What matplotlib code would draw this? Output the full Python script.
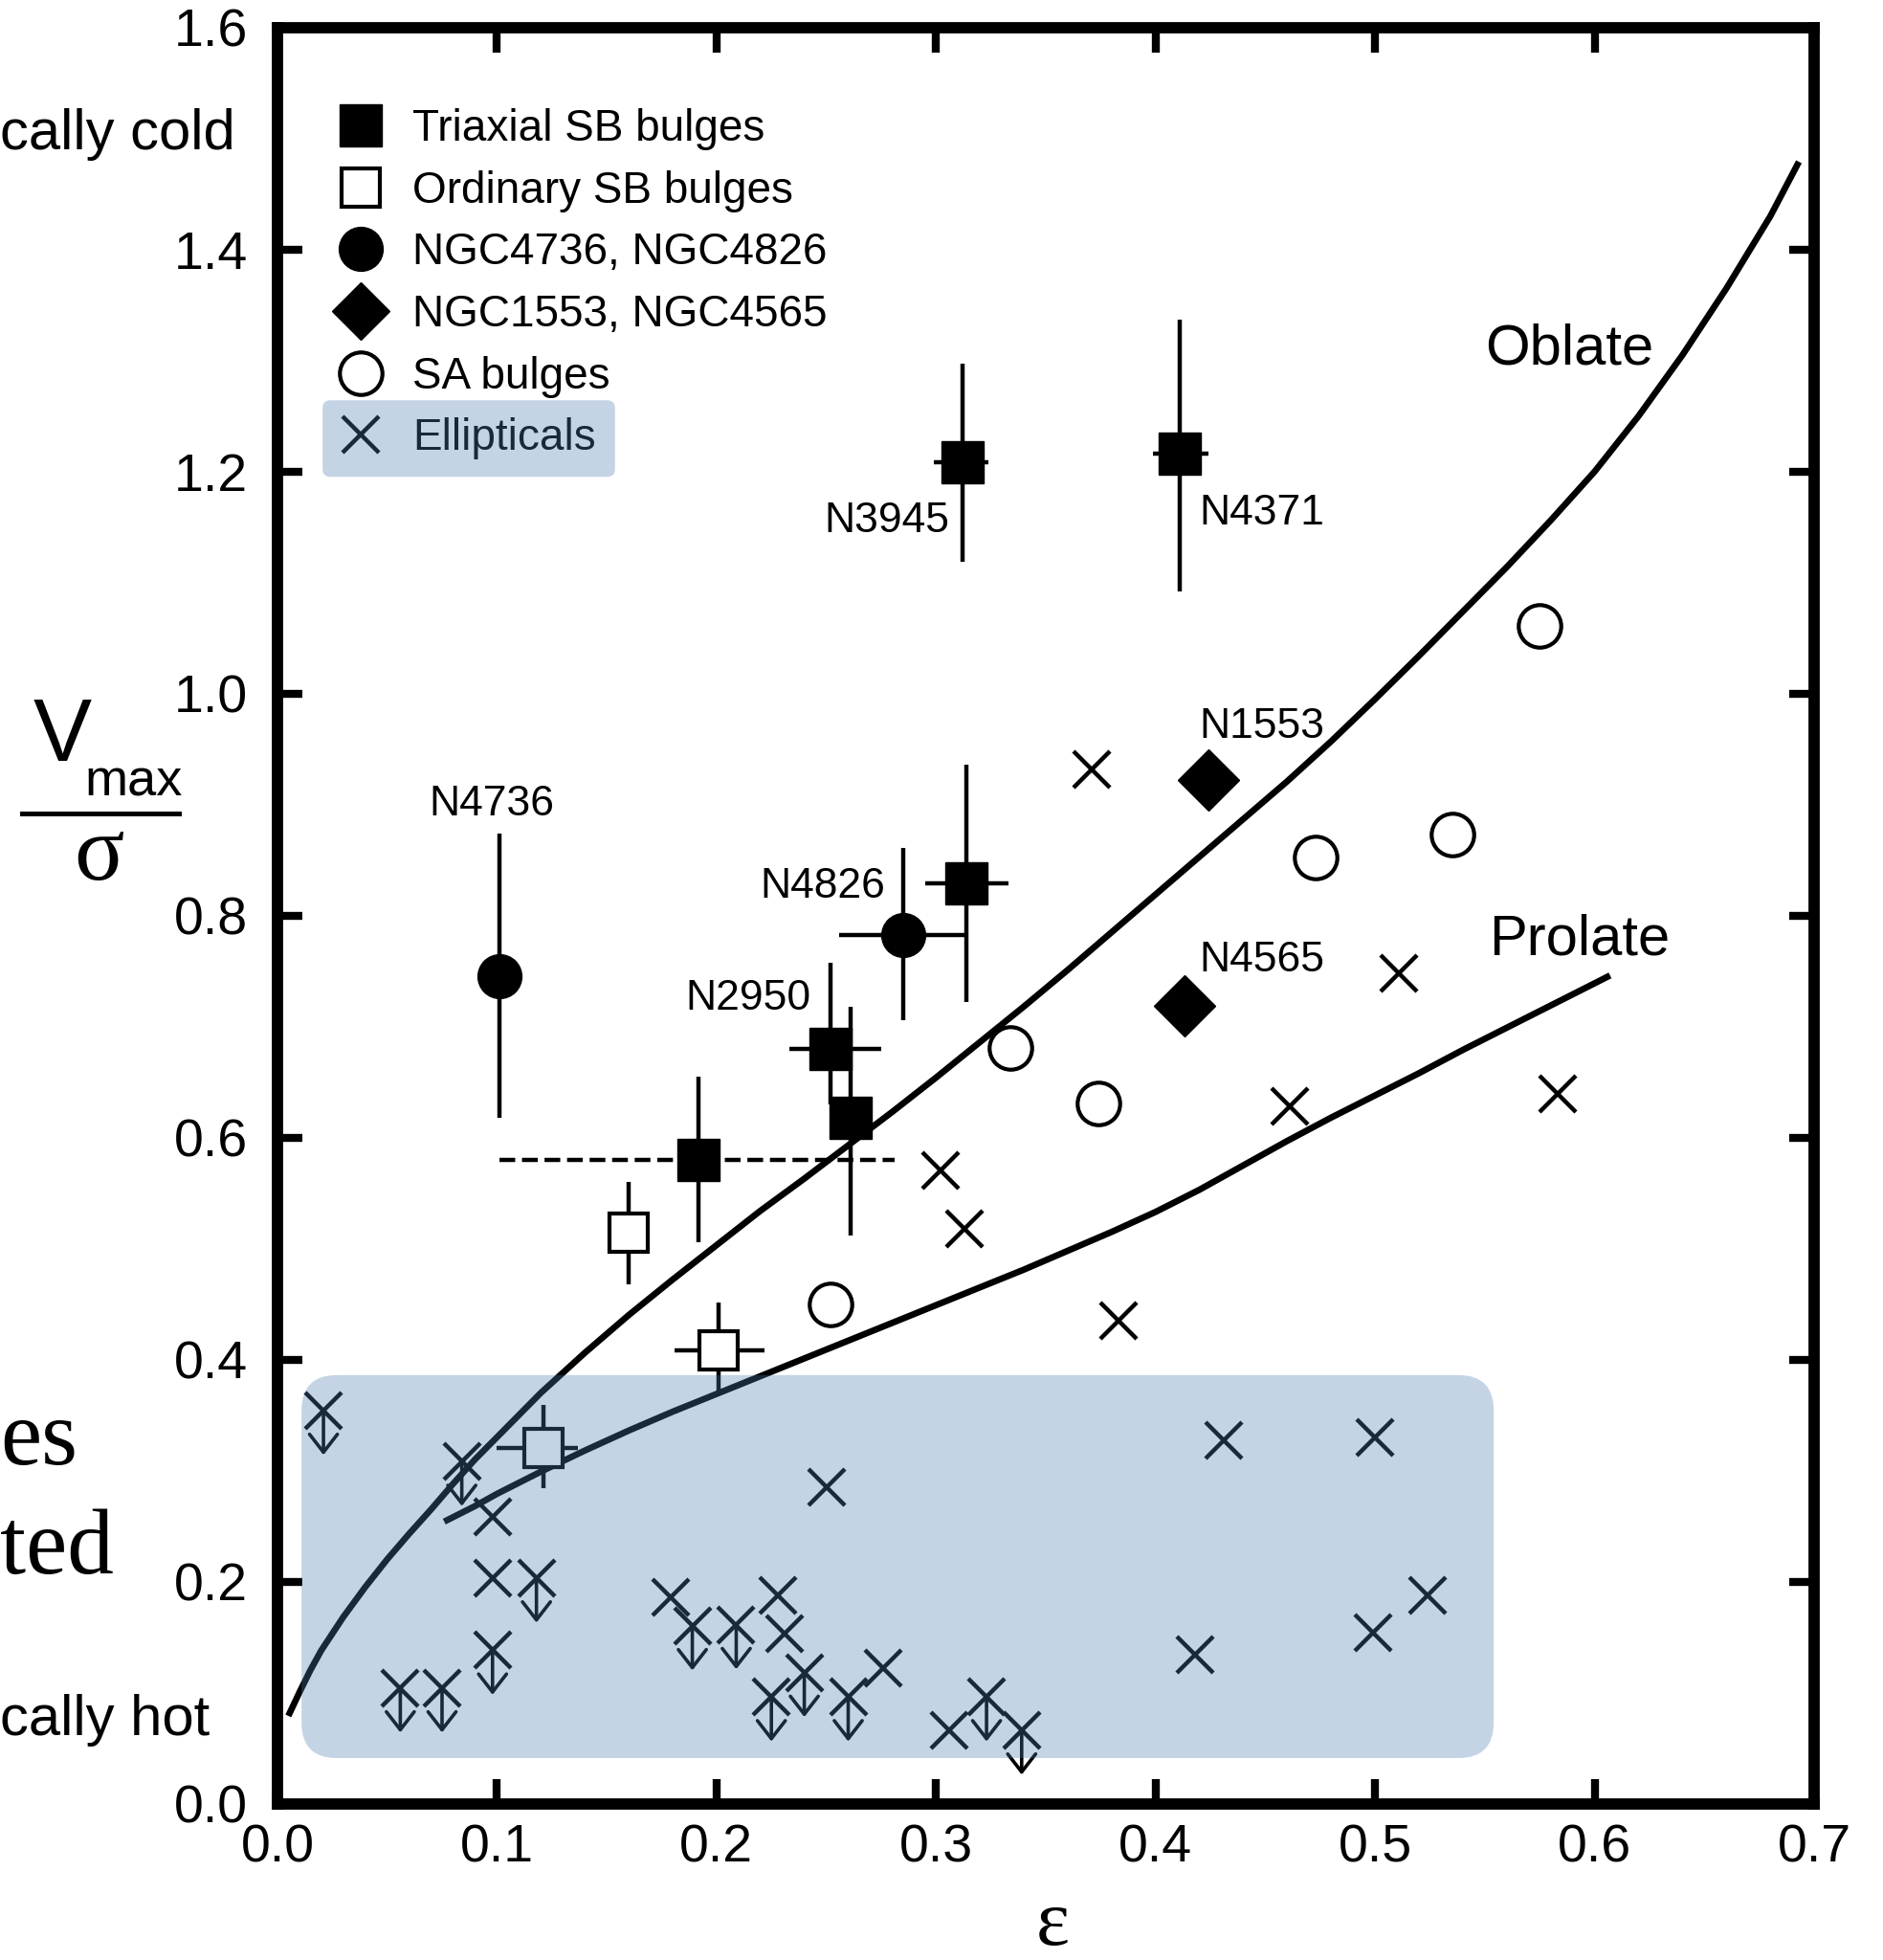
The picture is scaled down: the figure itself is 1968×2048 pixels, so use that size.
import numpy as np
import matplotlib
matplotlib.use('Agg')
import matplotlib.pyplot as plt
from matplotlib.lines import Line2D
from matplotlib.patches import FancyBboxPatch
from matplotlib.transforms import IdentityTransform

plt.rcParams['font.family'] = ['Liberation Sans', 'DejaVu Sans']

# ---- data ----
# triaxial SB bulges (filled squares), with error ranges
tri_x = [0.312, 0.411, 0.314, 0.252, 0.261, 0.192]
tri_y = [1.208, 1.216, 0.829, 0.680, 0.618, 0.580]
tri_ylo = [1.119, 1.092, 0.722, 0.630, 0.512, 0.506]
tri_yhi = [1.297, 1.337, 0.936, 0.757, 0.718, 0.655]
tri_xlo = [0.299, 0.399, 0.295, 0.233, 0.261, 0.101]
tri_xhi = [0.324, 0.424, 0.333, 0.275, 0.261, 0.281]
tri_xstyle = ['-', '-', '-', '-', '-', '--']

# ordinary SB bulges (open squares)
ord_x = [0.160, 0.201, 0.121]
ord_y = [0.514, 0.408, 0.320]
ord_ylo = [0.468, 0.372, 0.284]
ord_yhi = [0.560, 0.451, 0.359]
ord_xlo = [0.155, 0.181, 0.100]
ord_xhi = [0.165, 0.222, 0.137]

# NGC4736, NGC4826 (filled circles)
circ_x = [0.101, 0.285]
circ_y = [0.745, 0.782]
circ_ylo = [0.618, 0.706]
circ_yhi = [0.874, 0.861]
circ_xlo = [0.101, 0.256]
circ_xhi = [0.101, 0.314]

# NGC1553, NGC4565 (diamonds)
dia_x = [0.424, 0.413]
dia_y = [0.922, 0.719]

# SA bulges (open circles)
sa_x = [0.575, 0.473, 0.535, 0.334, 0.374, 0.252]
sa_y = [1.061, 0.852, 0.873, 0.681, 0.631, 0.450]

# ellipticals; ell_ul = 1 marks an upper limit
ell_x = [0.021, 0.084, 0.098, 0.098, 0.118, 0.098, 0.056, 0.075, 0.179, 0.189,
         0.209, 0.228, 0.231, 0.240, 0.225, 0.260, 0.276, 0.250, 0.306, 0.323,
         0.339, 0.431, 0.500, 0.524, 0.499, 0.418,
         0.371, 0.302, 0.313, 0.383, 0.461, 0.511, 0.583]
ell_y = [0.354, 0.308, 0.258, 0.203, 0.203, 0.138, 0.104, 0.104, 0.186, 0.160,
         0.161, 0.188, 0.153, 0.118, 0.096, 0.096, 0.122, 0.285, 0.066, 0.096,
         0.066, 0.327, 0.330, 0.188, 0.154, 0.134,
         0.932, 0.570, 0.518, 0.435, 0.628, 0.748, 0.639]
ell_ul = [1, 1, 0, 0, 1, 1, 1, 1, 0, 1,
          1, 0, 0, 1, 1, 1, 0, 0, 0, 1,
          1, 0, 0, 0, 0, 0,
          0, 0, 0, 0, 0, 0, 0]

# model curves
obl_x = [0.005, 0.01, 0.015, 0.02, 0.03, 0.04, 0.05, 0.06, 0.07, 0.08, 0.09, 0.10, 0.12,
         0.14, 0.16, 0.18, 0.20, 0.22, 0.24, 0.26, 0.28, 0.30, 0.32, 0.34, 0.36,
         0.38, 0.40, 0.42, 0.44, 0.46, 0.48, 0.50, 0.52, 0.54, 0.56, 0.58, 0.60,
         0.62, 0.64, 0.66, 0.68, 0.693]
obl_y = [0.079, 0.100, 0.120, 0.138, 0.168, 0.195, 0.220, 0.243, 0.265, 0.288, 0.310, 0.330, 0.370,
         0.406, 0.440, 0.472, 0.503, 0.534, 0.563, 0.593, 0.623, 0.654, 0.686, 0.718, 0.751,
         0.785, 0.819, 0.853, 0.887, 0.921, 0.957, 0.995, 1.034, 1.074, 1.114, 1.156, 1.200,
         1.250, 1.305, 1.365, 1.430, 1.479]
pro_x = [0.076, 0.09, 0.10, 0.12, 0.14, 0.16, 0.18, 0.20, 0.22, 0.24, 0.26, 0.28,
         0.30, 0.32, 0.34, 0.36, 0.38, 0.40, 0.42, 0.44, 0.46, 0.48, 0.50, 0.52,
         0.54, 0.56, 0.58, 0.60, 0.607]
pro_y = [0.254, 0.268, 0.279, 0.299, 0.318, 0.336, 0.353, 0.369, 0.385, 0.401, 0.417, 0.433,
         0.449, 0.465, 0.481, 0.498, 0.515, 0.533, 0.553, 0.575, 0.597, 0.618, 0.638, 0.658,
         0.679, 0.699, 0.719, 0.739, 0.746]

# point labels: text, x, y (baseline), alignment
lab_text = ['N3945', 'N4371', 'N4736', 'N4826', 'N2950', 'N1553', 'N4565']
lab_x = [0.306, 0.420, 0.069, 0.277, 0.243, 0.420, 0.420]
lab_y = [1.145, 1.152, 0.890, 0.816, 0.715, 0.960, 0.750]
lab_ha = ['right', 'left', 'left', 'right', 'right', 'left', 'left']

legend_labels = ['Triaxial SB bulges', 'Ordinary SB bulges', 'NGC4736, NGC4826',
                 'NGC1553, NGC4565', 'SA bulges', 'Ellipticals']

W, H = 1968, 2048
fig = plt.figure(figsize=(W / 100, H / 100), dpi=100)
ax = fig.add_axes([0.1473, 0.0798, 0.8162, 0.9062])
ax.set_xlim(0, 0.7)
ax.set_ylim(0, 1.6)

# curves
for cx, cy in [(obl_x, obl_y), (pro_x, pro_y)]:
    ax.plot(cx, cy, color='black', lw=4.8, solid_capstyle='butt',
            solid_joinstyle='round', zorder=2)

# error bars
ebw = 3.2
ax.vlines(tri_x, tri_ylo, tri_yhi, color='black', lw=ebw, zorder=3)
ax.hlines(tri_y, tri_xlo, tri_xhi, color='black', lw=ebw, linestyles=tri_xstyle, zorder=3)
ax.vlines(ord_x, ord_ylo, ord_yhi, color='black', lw=ebw, zorder=3)
ax.hlines(ord_y, ord_xlo, ord_xhi, color='black', lw=ebw, zorder=3)
ax.vlines(circ_x, circ_ylo, circ_yhi, color='black', lw=ebw, zorder=3)
ax.hlines(circ_y, circ_xlo, circ_xhi, color='black', lw=ebw, zorder=3)

# markers
ax.plot(tri_x, tri_y, 's', ms=32, color='black', zorder=4)
ax.plot(ord_x, ord_y, 's', ms=29, mfc='white', mec='black', mew=3, zorder=4)
ax.plot(circ_x, circ_y, 'o', ms=33, color='black', zorder=4)
ax.plot(dia_x, dia_y, 'D', ms=33, color='black', zorder=4)
ax.plot(sa_x, sa_y, 'o', ms=32, mfc='white', mec='black', mew=3, zorder=4)
ax.plot(ell_x, ell_y, 'x', ms=28, color='black', mew=3.2, zorder=4)

# upper-limit arrows
for x, y, ul in zip(ell_x, ell_y, ell_ul):
    if ul:
        ax.annotate('', xy=(x, y - 0.040), xytext=(x, y),
                    arrowprops=dict(arrowstyle='->,head_length=0.45,head_width=0.35',
                                    lw=2.6, color='black', mutation_scale=30,
                                    shrinkA=0, shrinkB=0), zorder=3)

# labels
for t, x, y, ha in zip(lab_text, lab_x, lab_y, lab_ha):
    ax.text(x, y, t, ha=ha, va='baseline', fontsize=32, zorder=6)
ax.text(0.550, 1.297, 'Oblate', ha='left', va='baseline', fontsize=43)
ax.text(0.552, 0.765, 'Prolate', ha='left', va='baseline', fontsize=43)

# axes styling
ax.set_xticks(np.arange(0, 0.71, 0.1))
ax.set_yticks(np.arange(0, 1.61, 0.2))
ax.xaxis.set_major_formatter(matplotlib.ticker.FormatStrFormatter('%.1f'))
ax.yaxis.set_major_formatter(matplotlib.ticker.FormatStrFormatter('%.1f'))
ax.tick_params(direction='in', length=19, width=6, top=True, right=True, labelsize=40)
ax.tick_params(axis='x', pad=15)
ax.tick_params(axis='y', pad=22)
for s in ax.spines.values():
    s.set_linewidth(8.5)

# legend
handles = [
    Line2D([], [], ls='none', marker='s', ms=31, color='black'),
    Line2D([], [], ls='none', marker='s', ms=29, mfc='white', mec='black', mew=3),
    Line2D([], [], ls='none', marker='o', ms=33, color='black'),
    Line2D([], [], ls='none', marker='D', ms=31, color='black'),
    Line2D([], [], ls='none', marker='o', ms=32, mfc='white', mec='black', mew=3),
    Line2D([], [], ls='none', marker='x', ms=28, color='black', mew=3.2),
]
leg = ax.legend(handles, legend_labels, loc='upper left', bbox_to_anchor=(0.040, 0.9545),
                frameon=False, fontsize=33, handlelength=1.0, handletextpad=0.68,
                labelspacing=0.45, borderpad=0, borderaxespad=0)

# blue highlight over the ellipticals
hl_color = '#4f7fb0'
ax.add_patch(FancyBboxPatch((0.011, 0.041), 0.543, 0.345,
                            boxstyle='round,pad=0,rounding_size=0.016', mutation_aspect=2.0,
                            fc=hl_color, ec='none', alpha=0.33, zorder=10))

fig.canvas.draw()
r = fig.canvas.get_renderer()
tb = leg.get_texts()[-1].get_window_extent(r)
yc = 0.5 * (tb.y0 + tb.y1)
hb = FancyBboxPatch((tb.x0 - 94, yc - 40), (tb.x1 + 20) - (tb.x0 - 94), 80,
                    boxstyle='round,pad=0,rounding_size=8', transform=IdentityTransform(),
                    fc=hl_color, ec='none', alpha=0.33, zorder=10)
fig.add_artist(hb)

# y label as stacked fraction
fig.text(0.0330, 0.6235, 'V', fontsize=66, ha='center', va='center')
fig.text(0.0450, 0.5938, 'max', fontsize=39, ha='left', va='baseline')
fig.add_artist(Line2D([0.0117, 0.0950], [0.585, 0.585], color='black', lw=3.6))
fig.text(0.0528, 0.5625, 'σ', fontsize=70, ha='center', va='center',
         family=['Liberation Serif', 'DejaVu Serif'])
# x label
fig.text(0.559, 0.008, 'ε', fontsize=60, ha='center', va='baseline',
         family=['Liberation Serif', 'DejaVu Serif'])

# slide text fragments cut off at the left edge
fig.text(0.0, 1 - 156 / H, 'cally cold', fontsize=43, ha='left', va='baseline')
fig.text(0.0, 1 - 1813 / H, 'cally hot', fontsize=43, ha='left', va='baseline')
fig.text(0.0, 1 - 1530 / H, 'es', fontsize=70, ha='left', va='baseline',
         family=['Liberation Serif', 'DejaVu Serif'])
fig.text(0.0, 1 - 1644 / H, 'ted', fontsize=70, ha='left', va='baseline',
         family=['Liberation Serif', 'DejaVu Serif'])

fig.savefig('out.png', dpi=100)
